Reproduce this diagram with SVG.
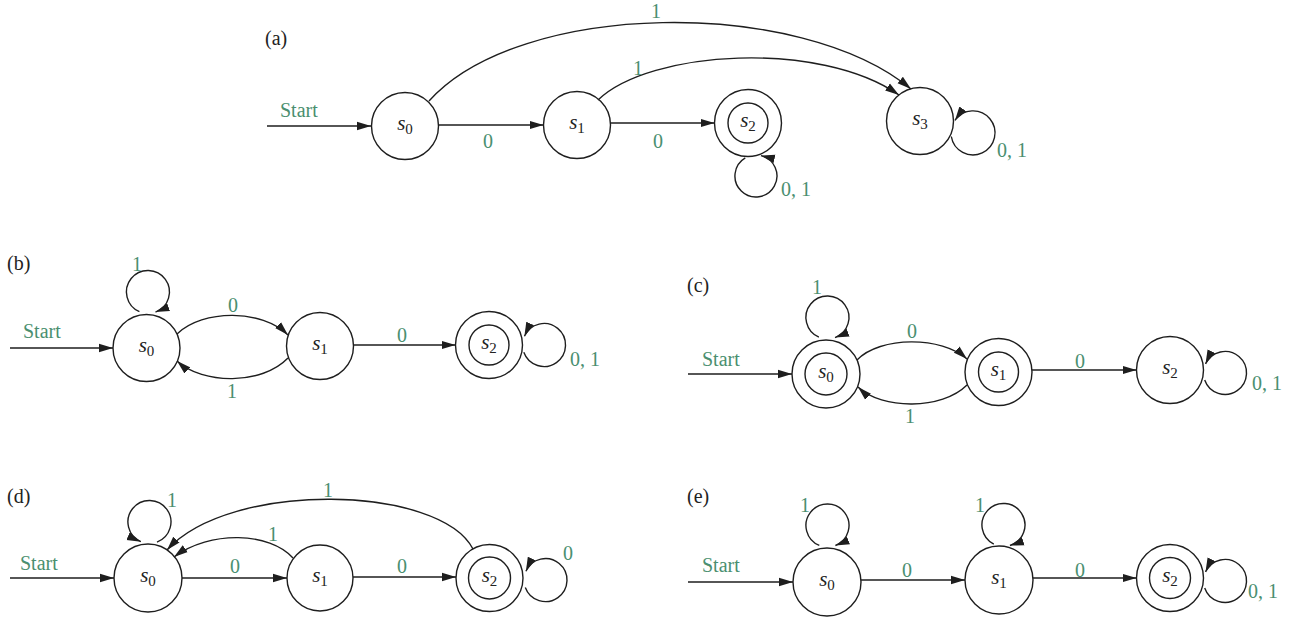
<svg xmlns="http://www.w3.org/2000/svg" width="1295" height="625" viewBox="0 0 1295 625">
<style>
.bg{fill:#ffffff}
.n{fill:none;stroke:#1e1e1e;stroke-width:1.4}
.e{fill:none;stroke:#1e1e1e;stroke-width:1.4;marker-end:url(#arr)}
.lbl{font-family:'Liberation Serif','DejaVu Serif',serif;font-size:20px;fill:#4a8f70}
.mid{text-anchor:middle}
.pl{font-family:'Liberation Serif','DejaVu Serif',serif;font-size:20px;fill:#222}
.st{font-family:'Liberation Serif','DejaVu Serif',serif;font-size:21px;font-style:italic;fill:#222;text-anchor:middle}
.sub{font-size:15px;font-style:normal}
</style>
<defs>
<marker id="arr" markerUnits="userSpaceOnUse" markerWidth="15" markerHeight="10" refX="14" refY="5" orient="auto">
<path d="M0,0.8 L14,5 L0,9.2 z" fill="#1e1e1e"/>
</marker>
</defs>
<rect class="bg" x="0" y="0" width="1295" height="625"/>

<!-- Panel labels -->
<text class="pl" x="265" y="45">(a)</text>
<text class="pl" x="7" y="270">(b)</text>
<text class="pl" x="687" y="292">(c)</text>
<text class="pl" x="7" y="503">(d)</text>
<text class="pl" x="687" y="503">(e)</text>

<!-- Panel (a) nodes -->
<g id="a_s0"><circle class="n" cx="405" cy="126" r="33.5"/><text class="st" x="405" y="130">s<tspan class="sub" dy="4">0</tspan></text></g>
<g id="a_s1"><circle class="n" cx="577" cy="125" r="33.5"/><text class="st" x="577" y="129">s<tspan class="sub" dy="4">1</tspan></text></g>
<g id="a_s2"><circle class="n" cx="748" cy="123" r="33.5"/><circle class="n" cx="748" cy="123" r="20"/><text class="st" x="748" y="127">s<tspan class="sub" dy="4">2</tspan></text></g>
<g id="a_s3"><circle class="n" cx="920" cy="121" r="33.5"/><text class="st" x="920" y="125">s<tspan class="sub" dy="4">3</tspan></text></g>

<!-- Panel (b) nodes -->
<g id="b_s0"><circle class="n" cx="146.5" cy="348" r="33.5"/><text class="st" x="146.5" y="352">s<tspan class="sub" dy="4">0</tspan></text></g>
<g id="b_s1"><circle class="n" cx="320" cy="346" r="33.5"/><text class="st" x="320" y="350">s<tspan class="sub" dy="4">1</tspan></text></g>
<g id="b_s2"><circle class="n" cx="489" cy="345" r="33.5"/><circle class="n" cx="489" cy="345" r="20"/><text class="st" x="489" y="349">s<tspan class="sub" dy="4">2</tspan></text></g>

<!-- Panel (c) nodes -->
<g id="c_s0"><circle class="n" cx="826" cy="374" r="34"/><circle class="n" cx="826" cy="374" r="21"/><text class="st" x="826" y="378">s<tspan class="sub" dy="4">0</tspan></text></g>
<g id="c_s1"><circle class="n" cx="998.5" cy="372" r="33.5"/><circle class="n" cx="998.5" cy="372" r="20"/><text class="st" x="998.5" y="376">s<tspan class="sub" dy="4">1</tspan></text></g>
<g id="c_s2"><circle class="n" cx="1170" cy="370" r="33.5"/><text class="st" x="1170" y="374">s<tspan class="sub" dy="4">2</tspan></text></g>

<!-- Panel (d) nodes -->
<g id="d_s0"><circle class="n" cx="148" cy="578" r="34"/><text class="st" x="148" y="582">s<tspan class="sub" dy="4">0</tspan></text></g>
<g id="d_s1"><circle class="n" cx="320" cy="578" r="33"/><text class="st" x="320" y="582">s<tspan class="sub" dy="4">1</tspan></text></g>
<g id="d_s2"><circle class="n" cx="489.5" cy="578" r="33.5"/><circle class="n" cx="489.5" cy="578" r="21"/><text class="st" x="489.5" y="582">s<tspan class="sub" dy="4">2</tspan></text></g>

<!-- Panel (e) nodes -->
<g id="e_s0"><circle class="n" cx="827" cy="582" r="34"/><text class="st" x="827" y="586">s<tspan class="sub" dy="4">0</tspan></text></g>
<g id="e_s1"><circle class="n" cx="999" cy="580" r="34"/><text class="st" x="999" y="584">s<tspan class="sub" dy="4">1</tspan></text></g>
<g id="e_s2"><circle class="n" cx="1170" cy="578" r="33.5"/><circle class="n" cx="1170" cy="578" r="20.5"/><text class="st" x="1170" y="582">s<tspan class="sub" dy="4">2</tspan></text></g>

<!-- Connectors -->
<g id="connectors">
<!-- (a) -->
<path class="e" d="M267,126 L371,126"/>
<path class="e" d="M438.5,125 L543.5,125"/>
<path class="e" d="M610.5,123 L714.5,123"/>
<path class="e" d="M429,101 C520,0 800,-3 911,89"/>
<path class="e" d="M598,100 C650,50 820,40 899,95"/>
<path class="e" d="M745.3,157.9 A21,21 0 1 0 760.9,155.6"/>
<path class="e" d="M951.3,136.5 A22,22 0 1 0 954.9,120.4"/>
<!-- (b) -->
<path class="e" d="M10,348 L113,348"/>
<path class="e" d="M177,334 C203,309 262,309 288,335"/>
<path class="e" d="M288,358 C262,385 203,385 177,361"/>
<path class="e" d="M353.5,345 L455.5,345"/>
<path class="e" d="M139.4,311.7 A21.5,21.5 0 1 1 155.5,312.1"/>
<path class="e" d="M523.8,352.3 A21.5,21.5 0 1 0 524.4,336.2"/>
<!-- (c) -->
<path class="e" d="M688,374 L792,374"/>
<path class="e" d="M857,360 C880,336 942,336 967,359"/>
<path class="e" d="M967,385 C942,410 882,410 858,387"/>
<path class="e" d="M1032,370 L1136.5,370"/>
<path class="e" d="M818.9,337.2 A21.5,21.5 0 1 1 835,337.6"/>
<path class="e" d="M1204.7,380 A21.5,21.5 0 1 0 1205.5,363.9"/>
<!-- (d) -->
<path class="e" d="M10,578 L114,578"/>
<path class="e" d="M182,578 L287,578"/>
<path class="e" d="M353,577 L456,577"/>
<path class="e" d="M293,558 C270,532 210,530 174,557"/>
<path class="e" d="M473,549 C440,485 230,480 167,550"/>
<path class="e" d="M157,542.1 A21.5,21.5 0 1 0 140.9,541.7"/>
<path class="e" d="M525.3,587.4 A21.5,21.5 0 1 0 525.9,571.2"/>
<!-- (e) -->
<path class="e" d="M688,582 L793,582"/>
<path class="e" d="M861,580 L965,580"/>
<path class="e" d="M1033,578 L1136.5,578"/>
<path class="e" d="M819.3,545.4 A21.5,21.5 0 1 1 835.4,545.5"/>
<path class="e" d="M993.8,544.2 A21.5,21.5 0 1 1 1009.9,545.5"/>
<path class="e" d="M1204.7,588 A21.5,21.5 0 1 0 1205.5,571.9"/>
</g>

<!-- Edge labels -->
<g id="labels">
<!-- (a) -->
<text class="lbl" x="280" y="117">Start</text>
<text class="lbl mid" x="488" y="148">0</text>
<text class="lbl mid" x="658" y="148">0</text>
<text class="lbl mid" x="638" y="75">1</text>
<text class="lbl mid" x="656" y="18">1</text>
<text class="lbl" x="781" y="196">0, 1</text>
<text class="lbl" x="997" y="157">0, 1</text>
<!-- (b) -->
<text class="lbl" x="23" y="338">Start</text>
<text class="lbl mid" x="137" y="271">1</text>
<text class="lbl mid" x="233" y="312">0</text>
<text class="lbl mid" x="232" y="398">1</text>
<text class="lbl mid" x="402" y="342">0</text>
<text class="lbl" x="570" y="366">0, 1</text>
<!-- (c) -->
<text class="lbl" x="702" y="366">Start</text>
<text class="lbl mid" x="817" y="294">1</text>
<text class="lbl mid" x="912" y="338">0</text>
<text class="lbl mid" x="910" y="423">1</text>
<text class="lbl mid" x="1080" y="368">0</text>
<text class="lbl" x="1252" y="390">0, 1</text>
<!-- (d) -->
<text class="lbl" x="20" y="570">Start</text>
<text class="lbl mid" x="172" y="507">1</text>
<text class="lbl mid" x="235" y="573">0</text>
<text class="lbl mid" x="402" y="573">0</text>
<text class="lbl mid" x="273" y="541">1</text>
<text class="lbl mid" x="328" y="497">1</text>
<text class="lbl mid" x="568" y="560">0</text>
<!-- (e) -->
<text class="lbl" x="702" y="572">Start</text>
<text class="lbl mid" x="805" y="512">1</text>
<text class="lbl mid" x="980" y="512">1</text>
<text class="lbl mid" x="907" y="577">0</text>
<text class="lbl mid" x="1080" y="577">0</text>
<text class="lbl" x="1248" y="598">0, 1</text>
</g>
</svg>
